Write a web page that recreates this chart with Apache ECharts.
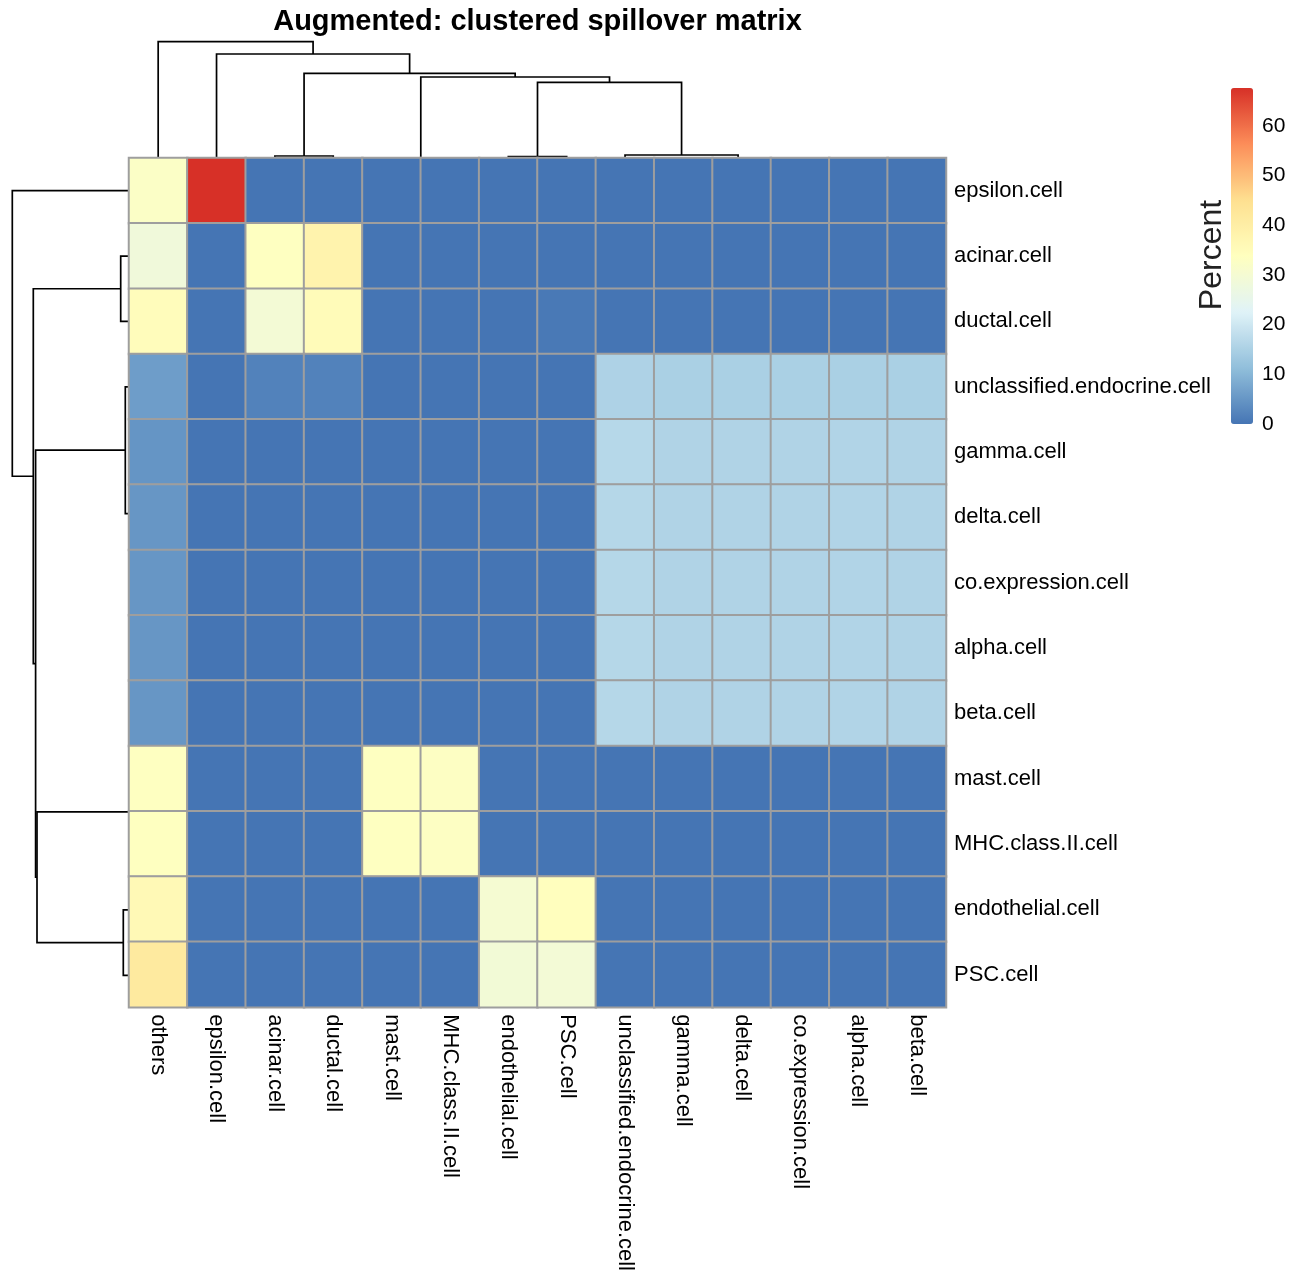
<!DOCTYPE html>
<html>
<head>
<meta charset="utf-8">
<script src="https://cdn.jsdelivr.net/npm/echarts@6/dist/echarts.min.js"></script>
<style>
  html, body { margin: 0; padding: 0; background: #ffffff; }
  #chart { width: 1303px; height: 1274px; }
</style>
</head>
<body>
<div id="chart"></div>
<script>
// ---- labels (already in clustered order) ----
const colLabels = ['others', 'epsilon.cell', 'acinar.cell', 'ductal.cell', 'mast.cell',
  'MHC.class.II.cell', 'endothelial.cell', 'PSC.cell', 'unclassified.endocrine.cell',
  'gamma.cell', 'delta.cell', 'co.expression.cell', 'alpha.cell', 'beta.cell'];
const rowLabels = ['epsilon.cell', 'acinar.cell', 'ductal.cell', 'unclassified.endocrine.cell',
  'gamma.cell', 'delta.cell', 'co.expression.cell', 'alpha.cell', 'beta.cell',
  'mast.cell', 'MHC.class.II.cell', 'endothelial.cell', 'PSC.cell'];

// ---- spillover percentages: one array per row, columns in colLabels order ----
const epsilonRow      = [32.4, 67.6, 0, 0, 0, 0, 0, 0, 0, 0, 0, 0, 0, 0];
const acinarRow       = [28.4, 0, 33.4, 38.2, 0, 0, 0, 0, 0, 0, 0, 0, 0, 0];
const ductalRow       = [34.8, 0, 29.4, 35.2, 0, 0, 0, 0.6, 0, 0, 0, 0, 0, 0];
const unclassifiedRow = [6.1, 0, 2.0, 2.0, 0, 0, 0, 0, 15.4, 14.9, 14.9, 14.9, 14.9, 14.9];
const gammaRow        = [4.8, 0, 0, 0, 0, 0, 0, 0, 16.6, 15.7, 15.7, 15.7, 15.8, 15.7];
const deltaRow        = [5.0, 0, 0, 0, 0, 0, 0, 0, 16.4, 15.7, 15.7, 15.7, 15.8, 15.7];
const coExpressionRow = [5.0, 0, 0, 0, 0, 0, 0, 0, 16.4, 15.7, 15.7, 15.7, 15.8, 15.7];
const alphaRow        = [5.0, 0, 0, 0, 0, 0, 0, 0, 16.4, 15.7, 15.7, 15.7, 15.8, 15.7];
const betaRow         = [5.0, 0, 0, 0, 0, 0, 0, 0, 16.4, 15.7, 15.7, 15.7, 15.8, 15.7];
const mastRow         = [33.5, 0, 0, 0, 33.4, 33.1, 0, 0, 0, 0, 0, 0, 0, 0];
const mhcRow          = [33.6, 0, 0, 0, 33.4, 33.0, 0, 0, 0, 0, 0, 0, 0, 0];
const endothelialRow  = [36.0, 0, 0, 0, 0, 0, 30.0, 34.0, 0, 0, 0, 0, 0, 0];
const pscRow          = [41.5, 0, 0, 0, 0, 0, 29.2, 29.3, 0, 0, 0, 0, 0, 0];
const matrixRows = [epsilonRow, acinarRow, ductalRow, unclassifiedRow, gammaRow, deltaRow,
  coExpressionRow, alphaRow, betaRow, mastRow, mhcRow, endothelialRow, pscRow];

// ---- colour legend ----
const legendTicks = [0, 10, 20, 30, 40, 50, 60];
const paletteRdYlBu = ['#4575B4', '#91BFDB', '#E0F3F8', '#FFFFBF', '#FEE090', '#FC8D59', '#D73027'];

// ---- hierarchical clustering (hclust convention: negative = leaf, positive = earlier merge) ----
const colMerge = [[-13, -14], [-12, 1], [-11, 2], [-10, 3], [-5, -6], [-7, -8], [-3, -4],
  [-9, 4], [6, 8], [5, 9], [7, 10], [-2, 11], [-1, 12]];
const colHeight = [0.05, 0.06, 0.07, 0.08, 0.05, 1.5, 2.0, 3.0, 75.7, 81.0, 84.7, 104.0, 116.3];
const rowMerge = [[-8, -9], [-7, 1], [-6, 2], [-5, 3], [-10, -11], [-4, 4], [-12, -13],
  [-2, -3], [5, 7], [6, 9], [8, 10], [-1, 11]];
const rowHeight = [0.05, 0.06, 0.07, 0.08, 0.05, 3.7, 5.7, 8.3, 92.0, 93.4, 95.7, 116.7];

// turn merges into elbow segments [posA, hA, posB, hB, h]
function dendroSegments(merge, height) {
  const pos = [], segs = [];
  const get = ref => ref < 0 ? [-ref - 0.5, 0] : [pos[ref - 1], height[ref - 1]];
  merge.forEach((m, i) => {
    const a = get(m[0]), b = get(m[1]);
    pos[i] = (a[0] + b[0]) / 2;
    segs.push([a[0], a[1], b[0], b[1], height[i]]);
  });
  return segs;
}
const colSegs = dendroSegments(colMerge, colHeight);
const rowSegs = dendroSegments(rowMerge, rowHeight);

const heatData = [];
matrixRows.forEach((row, r) => row.forEach((v, c) => heatData.push([c, r, v])));
const maxVal = Math.max(...heatData.map(d => d[2]));

const FONT = 'Liberation Sans';
const GRID = { left: 129, top: 158, width: 817, height: 850 };

function elbow(toPoint) {
  return function (params, api) {
    const pa = api.value(0), ha = api.value(1), pb = api.value(2), hb = api.value(3), h = api.value(4);
    const pts = [toPoint(api, pa, ha), toPoint(api, pa, h), toPoint(api, pb, h), toPoint(api, pb, hb)];
    return {
      type: 'polyline',
      shape: { points: pts },
      style: { stroke: '#000000', lineWidth: 1.7, fill: null }
    };
  };
}

const chart = echarts.init(document.getElementById('chart'), null, { renderer: 'canvas' });
chart.setOption({
  backgroundColor: '#ffffff',
  animation: false,
  grid: [
    GRID,
    { left: GRID.left, top: 41.7, width: GRID.width, height: 116.3 },
    { left: 12.3, top: GRID.top, width: 116.7, height: GRID.height },
    { left: 1231, top: 88, width: 22, height: 336 }
  ],
  xAxis: [
    {
      gridIndex: 0, type: 'category', data: colLabels, position: 'bottom',
      axisLine: { show: false }, axisTick: { show: false }, splitLine: { show: false },
      axisLabel: { rotate: -90, margin: 7, fontSize: 22, color: '#000', fontFamily: FONT, interval: 0 }
    },
    { gridIndex: 1, type: 'value', min: 0, max: colLabels.length, show: false },
    { gridIndex: 2, type: 'value', min: 0, max: rowHeight[rowHeight.length - 1], inverse: true, show: false },
    { gridIndex: 3, type: 'value', min: 0, max: 1, show: false }
  ],
  yAxis: [
    {
      gridIndex: 0, type: 'category', data: rowLabels, position: 'right', inverse: true,
      axisLine: { show: false }, axisTick: { show: false }, splitLine: { show: false },
      axisLabel: { margin: 8, fontSize: 22, color: '#000', fontFamily: FONT, interval: 0 }
    },
    { gridIndex: 1, type: 'value', min: 0, max: colHeight[colHeight.length - 1], show: false },
    { gridIndex: 2, type: 'value', min: 0, max: rowLabels.length, inverse: true, show: false },
    {
      gridIndex: 3, type: 'value', min: 0, max: maxVal, interval: 10, position: 'right',
      axisLine: { show: false }, axisTick: { show: false }, splitLine: { show: false },
      axisLabel: {
        margin: 9, fontSize: 21, color: '#000', fontFamily: FONT, showMaxLabel: false,
        formatter: v => legendTicks.includes(v) ? String(v) : ''
      }
    }
  ],
  visualMap: {
    type: 'continuous', min: 0, max: maxVal, seriesIndex: 0,
    calculable: false, realtime: false, padding: 0,
    left: 1231, top: 88, itemWidth: 22, itemHeight: 336,
    inRange: { color: paletteRdYlBu }
  },
  series: [
    {
      type: 'heatmap', xAxisIndex: 0, yAxisIndex: 0, data: heatData, z: 3,
      itemStyle: { borderColor: '#9e9e9e', borderWidth: 2 },
      emphasis: { disabled: true }
    },
    {
      type: 'custom', xAxisIndex: 1, yAxisIndex: 1, data: colSegs, clip: false, z: 2,
      renderItem: elbow((api, p, h) => api.coord([p, h]))
    },
    {
      type: 'custom', xAxisIndex: 2, yAxisIndex: 2, data: rowSegs, clip: false, z: 2,
      renderItem: elbow((api, p, h) => api.coord([h, p]))
    }
  ],
  graphic: [
    {
      type: 'text', x: 537.5, y: 22,
      style: {
        text: 'Augmented: clustered spillover matrix', align: 'center', verticalAlign: 'middle',
        font: 'bold 29px "Liberation Sans"', fill: '#000'
      }
    },
    {
      type: 'text', x: 1212, y: 255, rotation: Math.PI / 2,
      style: {
        text: 'Percent', align: 'center', verticalAlign: 'middle',
        font: '32px "Liberation Sans"', fill: '#222'
      }
    }
  ]
});
</script>
</body>
</html>
